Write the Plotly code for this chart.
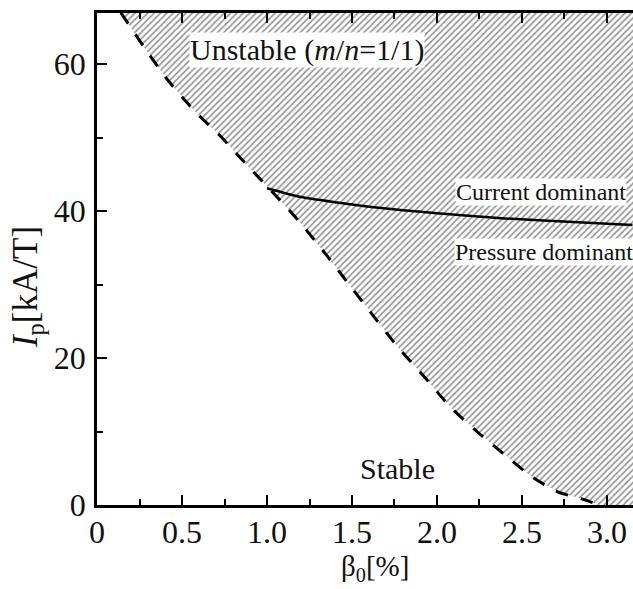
import plotly.graph_objects as go

# Stability boundary (dashed): beta0 [%] vs Ip [kA/T]
boundary_beta = [0.14, 0.28, 0.41, 0.57, 0.73, 0.88, 1.04, 1.2, 1.35, 1.49, 1.63,
                 1.78, 1.92, 2.08, 2.24, 2.40, 2.56, 2.71, 2.87, 2.95]
boundary_ip = [67.0, 62.2, 58.0, 53.7, 50.1, 46.3, 42.4, 38.3, 34.0, 29.8, 25.6,
               21.2, 17.6, 13.3, 9.9, 6.8, 3.8, 1.8, 0.7, 0.0]

# Current / pressure dominant separatrix (solid)
sep_beta = [1.0, 1.2, 1.4, 1.6, 1.8, 2.0, 2.4, 2.8, 3.15]
sep_ip = [43.1, 41.9, 41.2, 40.6, 40.1, 39.7, 39.0, 38.5, 38.1]

X_MAX = 3.153
Y_MAX = 66.95

x_ticks = [0, 0.5, 1.0, 1.5, 2.0, 2.5, 3.0]
x_ticktext = ["0", "0.5", "1.0", "1.5", "2.0", "2.5", "3.0"]
y_ticks = [0, 20, 40, 60]

FONT = "Liberation Serif"
TXT = "#111111"

fig = go.Figure()

# Hatched unstable region
poly_x = boundary_beta + [X_MAX, X_MAX, boundary_beta[0]]
poly_y = boundary_ip + [0, Y_MAX, boundary_ip[0]]
fig.add_trace(go.Scatter(
    x=poly_x, y=poly_y, mode="lines", fill="toself",
    line=dict(width=0, color="rgba(0,0,0,0)"),
    fillcolor="white",
    fillpattern=dict(shape="/", fgcolor="#222222", bgcolor="white",
                     size=4.5, solidity=0.35),
    hoverinfo="skip", showlegend=False))

fig.add_trace(go.Scatter(
    x=boundary_beta, y=boundary_ip, mode="lines",
    line=dict(color="black", width=3, dash="13px,13px", shape="spline", smoothing=0.6),
    showlegend=False))

fig.add_trace(go.Scatter(
    x=sep_beta, y=sep_ip, mode="lines",
    line=dict(color="black", width=2.5, shape="spline", smoothing=0.6),
    showlegend=False))

ann_font = dict(family=FONT, size=30, color=TXT)
fig.add_annotation(x=1.235, y=61.9, text="Unstable (<i>m</i>/<i>n</i>=1/1)",
                   showarrow=False, font=ann_font, bgcolor="white",
                   borderpad=0)
fig.add_annotation(x=1.765, y=5.0, text="Stable", showarrow=False,
                   font=ann_font)
fig.add_annotation(x=2.61, y=42.6, text="Current dominant", showarrow=False,
                   font=dict(family=FONT, size=24, color=TXT),
                   bgcolor="white", borderpad=0)
fig.add_annotation(x=2.63, y=34.4, text="Pressure dominant", showarrow=False,
                   font=dict(family=FONT, size=24, color=TXT),
                   bgcolor="white", borderpad=0)

# Axis titles
fig.add_annotation(xref="paper", yref="paper", x=-0.1306, y=0.443,
                   xanchor="center", yanchor="middle",
                   text="<i>I</i><sub>p</sub>[kA/T]", textangle=-90,
                   showarrow=False, font=dict(family=FONT, size=35, color=TXT))
fig.add_annotation(xref="paper", yref="paper", x=0.519, y=-0.129,
                   xanchor="center", yanchor="middle",
                   text="β<sub>0</sub>[%]", showarrow=False,
                   font=dict(family=FONT, size=29, color=TXT))

fig.update_layout(
    width=633, height=589,
    margin=dict(l=97, r=0, t=13, b=84),
    paper_bgcolor="white", plot_bgcolor="white",
    font=dict(family=FONT, color=TXT),
    showlegend=False,
)

fig.update_xaxes(
    range=[0, X_MAX], showgrid=False, zeroline=False,
    showline=True, linecolor="black", linewidth=2.5, mirror="ticks",
    ticks="inside", ticklen=10, tickwidth=2, tickcolor="black",
    tickvals=x_ticks, ticktext=x_ticktext,
    tickfont=dict(family=FONT, size=32, color=TXT),
    ticklabelstandoff=-3,
    minor=dict(ticks="inside", ticklen=6, tickwidth=2, tickcolor="black", dtick=0.25),
)
fig.update_yaxes(
    range=[0, Y_MAX], showgrid=False, zeroline=False,
    showline=True, linecolor="black", linewidth=2.5,
    ticks="inside", ticklen=10, tickwidth=2, tickcolor="black",
    tickvals=y_ticks,
    tickfont=dict(family=FONT, size=32, color=TXT),
    ticklabelstandoff=2,
    minor=dict(ticks="inside", ticklen=6, tickwidth=2, tickcolor="black", dtick=10),
)

fig.write_html("out.html",
               config={"displayModeBar": False},
               post_script="document.body.style.margin='0';document.body.style.overflow='hidden';")
